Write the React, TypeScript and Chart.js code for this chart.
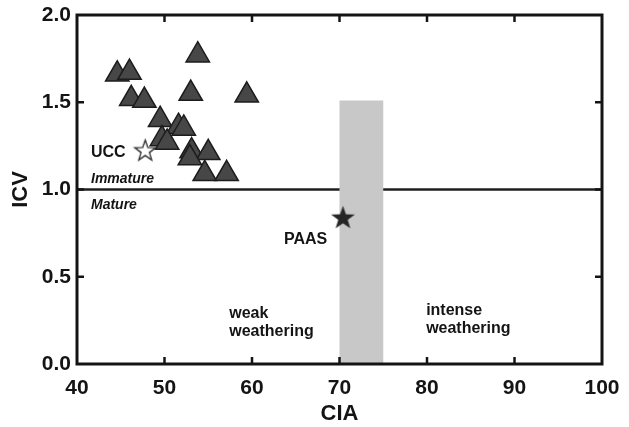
import React, { useEffect, useRef } from 'react';
import { Chart, registerables } from 'chart.js';

Chart.register(...registerables);

// ---- data ----
const xTicks = [40, 50, 60, 70, 80, 90, 100];
const yTicks = [0, 0.5, 1.0, 1.5, 2.0];
const sampleCIA = [44.6, 46.0, 53.8, 46.2, 47.7, 53.0, 59.4, 49.5, 51.6, 52.2, 49.7, 50.3, 53.1, 55.0, 52.9, 54.6, 57.1];
const sampleICV = [1.66, 1.67, 1.77, 1.52, 1.51, 1.55, 1.54, 1.40, 1.36, 1.35, 1.29, 1.27, 1.22, 1.21, 1.18, 1.09, 1.09];
const uccCIA = [47.8];
const uccICV = [1.22];
const paasCIA = [70.4];
const paasICV = [0.835];
const bandCIA = [70, 75];
const bandICV = [0, 1.51];
const maturityICV = [1.0];
const annotationTexts = ['UCC', 'Immature', 'Mature', 'PAAS', 'weak', 'weathering', 'intense', 'weathering'];
const annotationCIA = [41.6, 41.6, 41.6, 63.66, 57.4, 57.4, 79.9, 79.9];
const annotationICV = [1.212, 1.061, 0.91, 0.712, 0.287, 0.183, 0.306, 0.202];

const FAMILY = '"Liberation Sans", Arial, Helvetica, sans-serif';
const INK = '#141414';

function makeStar(outer: number, fill: string, stroke: string, lw: number) {
  const size = Math.ceil(outer * 2 + lw * 2 + 2);
  const c = document.createElement('canvas');
  c.width = size;
  c.height = size;
  const ctx = c.getContext('2d')!;
  const cx = size / 2;
  const cy = size / 2;
  const inner = outer * 0.4;
  ctx.beginPath();
  for (let i = 0; i < 10; i++) {
    const r = i % 2 === 0 ? outer : inner;
    const a = -Math.PI / 2 + (i * Math.PI) / 5;
    const px = cx + r * Math.cos(a);
    const py = cy + r * Math.sin(a);
    if (i === 0) ctx.moveTo(px, py);
    else ctx.lineTo(px, py);
  }
  ctx.closePath();
  ctx.fillStyle = fill;
  ctx.fill();
  if (lw > 0) {
    ctx.lineWidth = lw;
    ctx.strokeStyle = stroke;
    ctx.lineJoin = 'miter';
    ctx.stroke();
  }
  return c;
}

const decorPlugin = {
  id: 'decor',
  beforeDatasetsDraw(chart: any) {
    const { ctx, chartArea, scales } = chart;
    const x = scales.x;
    const y = scales.y;
    ctx.save();
    // maturity line
    const ly = y.getPixelForValue(maturityICV[0]);
    ctx.strokeStyle = '#1e1e1e';
    ctx.lineWidth = 2.5;
    ctx.beginPath();
    ctx.moveTo(chartArea.left, ly);
    ctx.lineTo(chartArea.right, ly);
    ctx.stroke();
    // band
    const bx0 = x.getPixelForValue(bandCIA[0]);
    const bx1 = x.getPixelForValue(bandCIA[1]);
    const by0 = y.getPixelForValue(bandICV[1]);
    const by1 = y.getPixelForValue(bandICV[0]);
    ctx.fillStyle = '#c8c8c8';
    ctx.fillRect(bx0, by0, bx1 - bx0, by1 - by0);
    // annotations
    ctx.fillStyle = INK;
    ctx.textBaseline = 'middle';
    ctx.textAlign = 'left';
    annotationTexts.forEach((t, i) => {
      const italic = t === 'Immature' || t === 'Mature';
      ctx.font = italic ? `italic bold 14px ${FAMILY}` : `bold 16px ${FAMILY}`;
      ctx.fillText(t, x.getPixelForValue(annotationCIA[i]), y.getPixelForValue(annotationICV[i]));
    });
    ctx.restore();
  },
  afterDatasetsDraw(chart: any) {
    const { ctx, chartArea, scales } = chart;
    const x = scales.x;
    const y = scales.y;
    const { left, right, top, bottom } = chartArea;
    ctx.save();
    ctx.strokeStyle = INK;
    ctx.lineWidth = 3;
    ctx.lineCap = 'square';
    ctx.strokeRect(left, top, right - left, bottom - top);
    ctx.lineWidth = 2.5;
    ctx.lineCap = 'butt';
    const tl = 7;
    ctx.beginPath();
    xTicks.slice(1, -1).forEach((v) => {
      const px = x.getPixelForValue(v);
      ctx.moveTo(px, bottom);
      ctx.lineTo(px, bottom - tl);
      ctx.moveTo(px, top);
      ctx.lineTo(px, top + tl);
    });
    yTicks.slice(1, -1).forEach((v) => {
      const py = y.getPixelForValue(v);
      ctx.moveTo(left, py);
      ctx.lineTo(left + tl, py);
      ctx.moveTo(right, py);
      ctx.lineTo(right - tl, py);
    });
    ctx.stroke();
    ctx.restore();
  },
};

export default function App() {
  const ref = useRef<HTMLCanvasElement>(null);
  useEffect(() => {
    const canvas = ref.current!;
    const uccStar = makeStar(11, '#ffffff', '#2a2a2a', 1.3);
    const paasStar = makeStar(12.5, '#262626', '#262626', 0);
    const chart = new Chart(canvas, {
      type: 'scatter',
      data: {
        datasets: [
          {
            label: 'UCC',
            data: uccCIA.map((v, i) => ({ x: v, y: uccICV[i] })),
            pointStyle: uccStar as any,
            pointRadius: 11,
          },
          {
            label: 'PAAS',
            data: paasCIA.map((v, i) => ({ x: v, y: paasICV[i] })),
            pointStyle: paasStar as any,
            pointRadius: 12,
          },
          {
            label: 'Samples',
            data: sampleCIA.map((v, i) => ({ x: v, y: sampleICV[i] })),
            pointStyle: 'triangle',
            pointRadius: 13.5,
            backgroundColor: '#474747',
            borderColor: '#1c1c1c',
            borderWidth: 1.5,
          },
        ],
      },
      options: {
        responsive: false,
        animation: false,
        layout: { padding: { top: 11, right: 27, left: 0, bottom: 0 } },
        plugins: { legend: { display: false }, tooltip: { enabled: false } },
        scales: {
          x: {
            type: 'linear',
            min: 40,
            max: 100,
            afterBuildTicks: (s: any) => {
              s.ticks = xTicks.map((v) => ({ value: v }));
            },
            afterFit: (s: any) => {
              s.height = 63;
              s.paddingLeft = 0;
              s.paddingRight = 0;
            },
            grid: { display: false, drawTicks: false },
            border: { display: false },
            ticks: {
              font: { family: FAMILY, size: 21, weight: 'bold', lineHeight: 1 },
              color: INK,
              padding: 14,
              maxRotation: 0,
              callback: (v: any) => String(v),
            },
            title: {
              display: true,
              text: 'CIA',
              color: INK,
              font: { family: FAMILY, size: 22, weight: 'bold' },
              padding: { top: 0, bottom: 0 },
            },
          },
          y: {
            type: 'linear',
            min: 0,
            max: 2,
            afterBuildTicks: (s: any) => {
              s.ticks = yTicks.map((v) => ({ value: v }));
            },
            afterFit: (s: any) => {
              s.width = 77;
              s.paddingTop = 0;
              s.paddingBottom = 0;
            },
            grid: { display: false, drawTicks: false },
            border: { display: false },
            ticks: {
              font: { family: FAMILY, size: 21, weight: 'bold', lineHeight: 1 },
              color: INK,
              padding: 6,
              callback: (v: any) => Number(v).toFixed(1),
            },
            title: {
              display: true,
              text: 'ICV',
              color: INK,
              font: { family: FAMILY, size: 22, weight: 'bold' },
              padding: { top: 8, bottom: 0 },
            },
          },
        },
      },
      plugins: [decorPlugin],
    });
    return () => chart.destroy();
  }, []);
  return (
    <div style={{ position: 'absolute', left: 0, top: 0, width: 629, height: 427, background: '#fff' }}>
      <canvas ref={ref} width={629} height={427} style={{ display: 'block' }} />
    </div>
  );
}
